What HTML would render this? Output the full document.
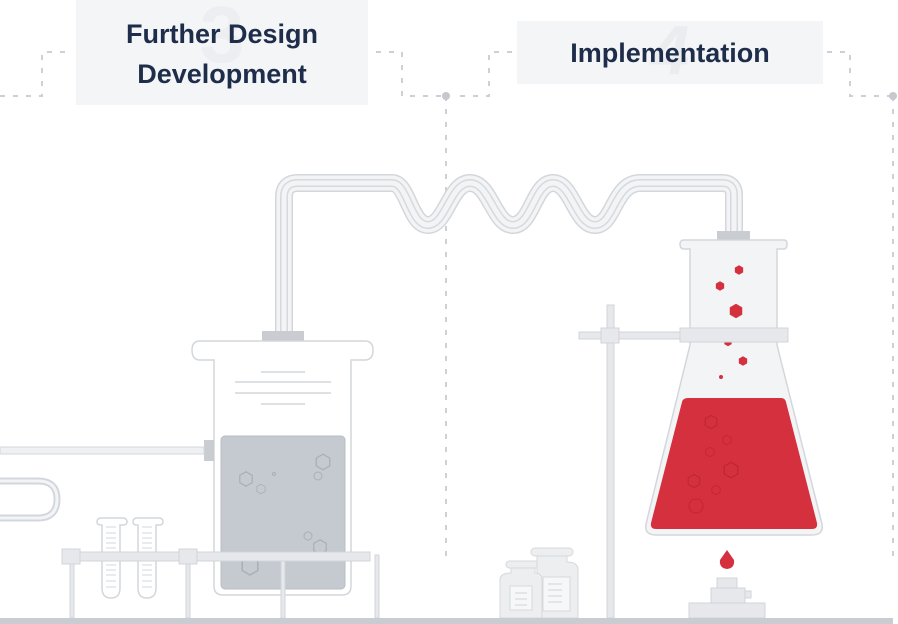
<!DOCTYPE html>
<html><head><meta charset="utf-8"><style>
html,body{margin:0;padding:0;background:#fff;width:898px;height:624px;overflow:hidden}
svg{display:block}
</style></head><body>
<svg width="898" height="624" viewBox="0 0 898 624" xmlns="http://www.w3.org/2000/svg">
<defs>
<g id="hex"><polygon points="0,-6 5.2,-3 5.2,3 0,6 -5.2,3 -5.2,-3"/></g>
<path id="tube" d="M284,335 V197 Q284,183 298,183 H392 C408,183 410,225 428,225 C446,225 450,183 470,183 C490,183 494,225 513,225 C532,225 534,183 553,183 C572,183 576,225 595,225 C614,225 614,183 640,183 H722 Q734,183 734,195 V233"/>
</defs>
<!-- dashed connectors -->
<g fill="none" stroke="#cdd1d5" stroke-width="2" stroke-dasharray="5,8">
<path d="M0,96 H42 V52 H68"/>
<path d="M376,52 H402 V96 H446"/>
<path d="M446,96 V556"/>
<path d="M460,96 H489 V52 H514"/>
<path d="M827,52 H850 V96 H893"/>
<path d="M893,96 V556"/>
</g>
<circle cx="446" cy="96" r="4" fill="#c5c9ce"/>
<circle cx="893" cy="96" r="4" fill="#c5c9ce"/>
<!-- label boxes -->
<rect x="76" y="0" width="292" height="105" fill="#f3f5f7"/>
<text x="222" y="62" font-family="Liberation Sans,sans-serif" font-weight="bold" font-size="80" fill="#eceef1" text-anchor="middle">3</text>
<g font-family="Liberation Sans,sans-serif" font-weight="bold" font-size="27" fill="#1e2d4a" text-anchor="middle">
<text x="222" y="43">Further Design</text>
<text x="222" y="83">Development</text>
</g>
<rect x="517" y="21" width="306" height="63" fill="#f3f5f7"/>
<text x="670" y="74" font-family="Liberation Sans,sans-serif" font-weight="bold" font-size="70" fill="#eaecef" text-anchor="middle" font-style="italic">4</text>
<text x="670" y="62" font-family="Liberation Sans,sans-serif" font-weight="bold" font-size="27" fill="#1e2d4a" text-anchor="middle">Implementation</text>
<!-- coiled tube -->
<g fill="none" stroke-linejoin="round">
<use href="#tube" stroke="#d3d7dc" stroke-width="18"/>
<use href="#tube" stroke="#f3f4f6" stroke-width="15"/>
<use href="#tube" stroke="#d6dade" stroke-width="8"/>
<use href="#tube" stroke="#f3f4f6" stroke-width="5"/>
</g>
<!-- left beaker -->
<rect x="262" y="331" width="42" height="11" fill="#c9cdd2"/>
<path d="M200,341 H365 Q373,341 373,350 Q373,360 365,360 H351 V586 Q351,595 342,595 H223 Q214,595 214,586 V360 H200 Q192,360 192,350 Q192,341 200,341 Z" fill="#fff" stroke="#d3d7dc" stroke-width="1.5"/>
<g stroke="#d3d7dc" stroke-width="1.5">
<line x1="261" y1="372" x2="305" y2="372"/><line x1="235" y1="382" x2="331" y2="382"/>
<line x1="235" y1="393" x2="331" y2="393"/><line x1="261" y1="404" x2="305" y2="404"/>
</g>
<rect x="221" y="436" width="124" height="153" rx="4" fill="#c5cad0" stroke="#b8bdc4"/>
<g fill="none" stroke="#a9afb6" stroke-width="1">
<use href="#hex" transform="translate(246,479) scale(1.2)"/><use href="#hex" transform="translate(261,489) scale(.8)"/>
<use href="#hex" transform="translate(323,462) scale(1.3)"/><circle cx="318" cy="476" r="4"/>
<circle cx="274" cy="474" r="1.5"/><circle cx="308" cy="536" r="4"/>
<use href="#hex" transform="translate(320,547) scale(1.2)"/><use href="#hex" transform="translate(250,566) scale(1.5)"/>
</g>
<rect x="204" y="440" width="10" height="21" fill="#c9cdd2"/>
<rect x="0" y="447" width="204" height="7" fill="#eef0f2" stroke="#d3d7dc"/>
<path d="M0,481 H38 Q57,481 57,499 Q57,518 38,518 H0" fill="none" stroke="#d3d7dc" stroke-width="7"/>
<path d="M0,481 H38 Q57,481 57,499 Q57,518 38,518 H0" fill="none" stroke="#f3f4f6" stroke-width="3"/>
<!-- test tubes -->
<g fill="#fff" stroke="#d3d7dc" stroke-width="1.5">
<path d="M101,518 H123 Q127,518 127,522 Q127,525 123,525 H120 V588 Q120,598 111,598 Q102,598 102,588 V525 H101 Q97,525 97,522 Q97,518 101,518Z"/>
<path d="M137,518 H159 Q163,518 163,522 Q163,525 159,525 H156 V588 Q156,598 147,598 Q138,598 138,588 V525 H137 Q133,525 133,522 Q133,518 137,518Z"/>
</g>
<g stroke="#d3d7dc" stroke-width="1">
<path d="M106,527h10M106,533h10M106,538h10M106,543h10M106,548h10M106,554h10M106,559h10M106,565h10M106,570h10M106,575h10M106,581h10M106,587h10"/>
<path d="M142,527h10M142,533h10M142,538h10M142,543h10M142,548h10M142,554h10M142,559h10M142,565h10M142,570h10M142,575h10M142,581h10M142,587h10"/>
</g>
<!-- rack -->
<g fill="#e6e8eb" stroke="#d0d4d9">
<rect x="70" y="552" width="300" height="9"/>
<rect x="70" y="561" width="4" height="57"/><rect x="186" y="561" width="4" height="57"/>
<rect x="281" y="561" width="4" height="57"/><rect x="375" y="555" width="4" height="63"/>
<rect x="62" y="549" width="18" height="15"/><rect x="179" y="549" width="18" height="15"/>
</g>
<!-- stand -->
<g fill="#e6e8eb" stroke="#d0d4d9">
<rect x="607" y="305" width="7" height="313"/>
<rect x="579" y="332" width="106" height="7"/>
<rect x="601" y="328" width="18" height="15"/>
</g>
<!-- flask -->
<rect x="717" y="231" width="33" height="10" fill="#c9cdd2"/>
<path d="M684,240 H784 Q787,240 787,244 Q787,249 784,249 H777 V345 L822,524 Q824,535 812,535 H656 Q644,535 646,524 L690,345 V249 H684 Q680,249 680,244 Q680,240 684,240Z" fill="#f3f4f6" stroke="#d3d7dc" stroke-width="1.5"/>
<path d="M688,398 H781 Q785,398 786,402 L817,523 Q818,529 812,529 H656 Q650,529 651,523 L682,402 Q683,398 688,398Z" fill="#d5303e"/>
<g fill="none" stroke="#bf2633" stroke-width="1">
<use href="#hex" transform="translate(711,422) scale(1.1)"/><use href="#hex" transform="translate(727,440) scale(.8)"/>
<use href="#hex" transform="translate(710,452) scale(.8)"/><use href="#hex" transform="translate(731,470) scale(1.3)"/>
<use href="#hex" transform="translate(694,481) scale(1.1)"/><use href="#hex" transform="translate(716,490) scale(.8)"/>
<circle cx="696" cy="506" r="7"/>
</g>
<g fill="#d5303e">
<use href="#hex" transform="translate(739,270) scale(.8)"/><use href="#hex" transform="translate(720,286) scale(.8)"/>
<use href="#hex" transform="translate(736,311) scale(1.2)"/><use href="#hex" transform="translate(728,342) scale(.7)"/>
<use href="#hex" transform="translate(743,361) scale(.8)"/><circle cx="721" cy="377" r="2"/>
</g>
<rect x="680" y="328" width="108" height="14" fill="#e6e8eb" stroke="#d0d4d9"/>
<!-- burner -->
<path d="M727,550 L734,560 Q735,568 727,569 Q719,568 720,560 Z" fill="#d5303e"/>
<g fill="#e6e8eb" stroke="#d0d4d9">
<rect x="717" y="578" width="20" height="10"/><rect x="745" y="591" width="6" height="7"/>
<rect x="711" y="588" width="34" height="15"/><rect x="689" y="603" width="76" height="15"/>
</g>
<!-- bottles -->
<g fill="#eceef0" stroke="#d6d9dd">
<rect x="531" y="548" width="42" height="8" rx="4"/>
<rect x="506" y="561" width="34" height="7" rx="3.5"/>
<path d="M537,556 H567 V562 Q578,562 578,570 V618 H537 Z"/>
<path d="M511,568 H535 V573 Q542,573 542,580 V618 H500 V580 Q500,573 511,573 Z"/>
<rect x="543" y="577" width="27" height="34" fill="#f6f7f8"/>
<rect x="510" y="586" width="22" height="24" fill="#f6f7f8"/>
</g>
<g stroke="#d0d4d9"><path d="M548,584h14M548,590h14M548,596h14M548,602h14M515,593h12M515,599h12M515,605h12"/></g>
<!-- floor -->
<rect x="0" y="618" width="893" height="6" fill="#c9cdd2"/>
</svg>
</body></html>
